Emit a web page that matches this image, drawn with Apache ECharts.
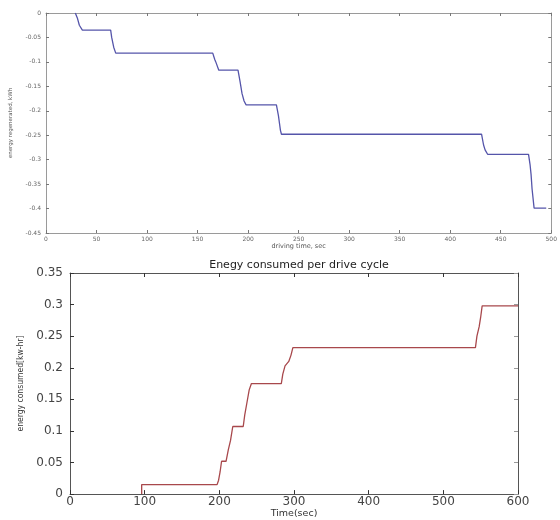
<!DOCTYPE html>
<html>
<head>
<meta charset="utf-8">
<script src="https://cdn.jsdelivr.net/npm/echarts@6/dist/echarts.min.js"></script>
<style>
  html, body { margin: 0; padding: 0; background: #fff; }
  #chart { width: 560px; height: 520px; }
</style>
</head>
<body>
<div id="chart"></div>
<script>
// top panel: energy regenerated (kWh) vs driving time (sec)
var regenTime = [29, 31, 33, 36, 64, 65, 67, 69, 165, 167, 168, 171, 190, 192, 194, 196, 198, 228, 230, 232, 233, 431, 433, 434.5, 437, 477.5, 479, 480, 481, 483, 495];
var regenEnergy = [0, -0.01, -0.025, -0.035, -0.035, -0.05, -0.07, -0.082, -0.082, -0.095, -0.1, -0.117, -0.117, -0.14, -0.165, -0.18, -0.188, -0.188, -0.21, -0.24, -0.248, -0.248, -0.27, -0.28, -0.289, -0.289, -0.31, -0.33, -0.36, -0.399, -0.399];

// bottom panel: energy consumed per drive cycle (kw-hr) vs time (sec)
var consTime = [96, 96, 197, 199, 201, 203, 209, 212, 215, 218, 232, 234, 237, 240, 243, 283, 285, 288, 290, 293, 296, 298.5, 543, 545, 548, 550, 552, 600];
var consEnergy = [0, 0.015, 0.015, 0.022, 0.035, 0.052, 0.052, 0.07, 0.085, 0.107, 0.107, 0.125, 0.145, 0.165, 0.175, 0.175, 0.19, 0.203, 0.203, 0.21, 0.22, 0.232, 0.232, 0.25, 0.265, 0.28, 0.298, 0.298];

function pairs(xs, ys) {
  return xs.map(function (x, i) { return [x, ys[i]]; });
}

var chart = echarts.init(document.getElementById('chart'));

var topAxisLine = { onZero: false, lineStyle: { color: '#9a9a9a', width: 1 } };
var botAxisLine = { onZero: false, lineStyle: { color: '#555', width: 1 } };

var option = {
  backgroundColor: '#fff',
  animation: false,
  title: {
    text: 'Enegy consumed per drive cycle',
    left: 294,
    top: 255,
    textAlign: 'center',
    textStyle: { fontFamily: 'DejaVu Sans', fontSize: 11, fontWeight: 'normal', color: '#222' }
  },
  grid: [
    { left: 42, right: 3, top: 13, height: 220 },
    { left: 70, right: 42, top: 273, height: 224 }
  ],
  xAxis: [
    {
      gridIndex: 0, type: 'value', min: 0, max: 500, interval: 50,
      name: 'driving time, sec', nameLocation: 'middle', nameGap: 9,
      nameTextStyle: { fontFamily: 'DejaVu Sans', fontSize: 6.5, color: '#555' },
      axisLine: topAxisLine,
      axisTick: { inside: true, length: 3, lineStyle: { color: '#777' } },
      axisLabel: { fontFamily: 'DejaVu Sans', fontSize: 6, color: '#666', margin: 3 },
      splitLine: { show: false }
    },
    {
      gridIndex: 0, type: 'value', min: 0, max: 500, interval: 50, position: 'top',
      axisLine: topAxisLine,
      axisTick: { inside: true, length: 3, lineStyle: { color: '#777' } },
      axisLabel: { show: false },
      splitLine: { show: false }
    },
    {
      gridIndex: 1, type: 'value', min: 0, max: 600, interval: 100,
      name: 'Time(sec)', nameLocation: 'middle', nameGap: 13,
      nameTextStyle: { fontFamily: 'DejaVu Sans', fontSize: 9.5, color: '#333' },
      axisLine: botAxisLine,
      axisTick: { inside: true, length: 4, lineStyle: { color: '#333' } },
      axisLabel: { fontFamily: 'DejaVu Sans', fontSize: 12, color: '#444', margin: 2 },
      splitLine: { show: false }
    },
    {
      gridIndex: 1, type: 'value', min: 0, max: 600, interval: 100, position: 'top',
      axisLine: botAxisLine,
      axisTick: { inside: true, length: 4, lineStyle: { color: '#333' } },
      axisLabel: { show: false },
      splitLine: { show: false }
    }
  ],
  yAxis: [
    {
      gridIndex: 0, type: 'value', min: -0.45, max: 0, interval: 0.05,
      name: 'energy regenerated, kWh', nameLocation: 'middle', nameGap: 32,
      nameTextStyle: { fontFamily: 'DejaVu Sans', fontSize: 5.5, color: '#555' },
      axisLine: topAxisLine,
      axisTick: { inside: true, length: 3, lineStyle: { color: '#777' } },
      axisLabel: { fontFamily: 'DejaVu Sans', fontSize: 6, color: '#666', margin: 5 },
      splitLine: { show: false }
    },
    {
      gridIndex: 0, type: 'value', min: -0.45, max: 0, interval: 0.05, position: 'right',
      axisLine: topAxisLine,
      axisTick: { inside: true, length: 3, lineStyle: { color: '#777' } },
      axisLabel: { show: false },
      splitLine: { show: false }
    },
    {
      gridIndex: 1, type: 'value', min: 0, max: 0.35, interval: 0.05,
      name: 'energy consumed[kw-hr]', nameLocation: 'middle', nameGap: 44,
      nameTextStyle: { fontFamily: 'DejaVu Sans Condensed', fontSize: 8.5, color: '#333' },
      axisLine: botAxisLine,
      axisTick: { inside: true, length: 4, lineStyle: { color: '#333' } },
      axisLabel: { fontFamily: 'DejaVu Sans', fontSize: 12, color: '#444', margin: 7 },
      splitLine: { show: false }
    },
    {
      gridIndex: 1, type: 'value', min: 0, max: 0.35, interval: 0.05, position: 'right',
      axisLine: botAxisLine,
      axisTick: { inside: true, length: 4, lineStyle: { color: '#999' } },
      axisLabel: { show: false },
      splitLine: { show: false }
    }
  ],
  series: [
    {
      type: 'line', xAxisIndex: 0, yAxisIndex: 0,
      data: pairs(regenTime, regenEnergy),
      showSymbol: false, symbol: 'none',
      lineStyle: { color: '#5555aa', width: 1.3 }
    },
    {
      type: 'line', xAxisIndex: 2, yAxisIndex: 2,
      data: pairs(consTime, consEnergy),
      showSymbol: false, symbol: 'none',
      lineStyle: { color: '#a8484c', width: 1.3 }
    }
  ]
};

chart.setOption(option);
</script>
</body>
</html>
